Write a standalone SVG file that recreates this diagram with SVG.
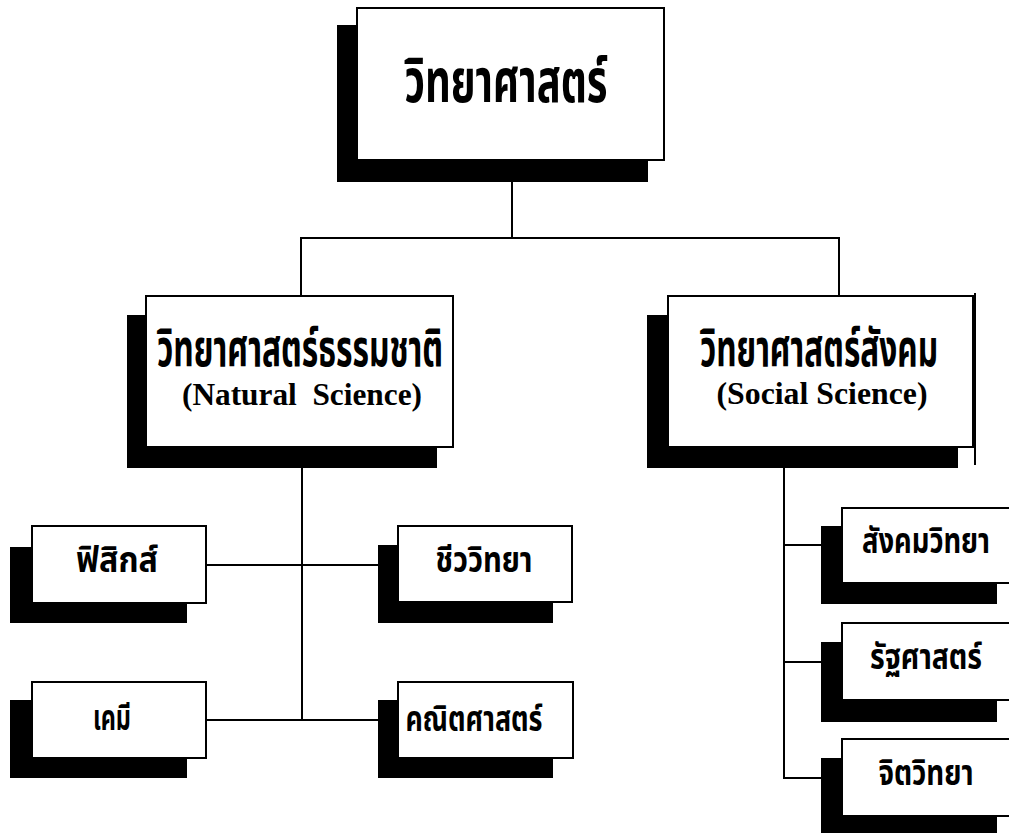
<svg xmlns="http://www.w3.org/2000/svg" width="1009" height="833" viewBox="0 0 1009 833">
<style>
.bg{fill:#fff}
.sh{fill:#000}
.bx{fill:#fff;stroke:#000;stroke-width:2}
.ln{stroke:#000;stroke-width:2;fill:none}
.th{font-family:'Noto Sans Thai','Noto Sans Thai UI','Noto Serif Thai',Loma,Garuda,'Tlwg Typo','Noto Sans',sans-serif;font-weight:bold;fill:#000;text-anchor:middle}
.en{font-family:'Liberation Serif','Times New Roman',serif;font-weight:bold;fill:#000;text-anchor:middle;font-size:32px}
</style>
<rect class="bg" x="0" y="0" width="1009" height="833"/>
<g id="connectors">
<line class="ln" x1="512" y1="182" x2="512" y2="238"/>
<line class="ln" x1="301" y1="238" x2="840" y2="238"/>
<line class="ln" x1="301" y1="237" x2="301" y2="296"/>
<line class="ln" x1="839" y1="237" x2="839" y2="296"/>
<line class="ln" x1="302" y1="468" x2="302" y2="721"/>
<line class="ln" x1="206" y1="565" x2="378" y2="565"/>
<line class="ln" x1="206" y1="720" x2="378" y2="720"/>
<line class="ln" x1="784" y1="468" x2="784" y2="779"/>
<line class="ln" x1="783" y1="545" x2="821" y2="545"/>
<line class="ln" x1="783" y1="662" x2="821" y2="662"/>
<line class="ln" x1="783" y1="778" x2="821" y2="778"/>
</g>
<g id="science">
<rect class="sh" x="337" y="25" width="311" height="157"/>
<rect class="bx" x="357" y="8" width="307" height="152"/>
<text class="th" x="506" y="102" font-size="60" textLength="203" lengthAdjust="spacingAndGlyphs">วิทยาศาสตร์</text>
</g>
<g id="natural-science">
<rect class="sh" x="127" y="315" width="310" height="153"/>
<rect class="bx" x="146" y="296" width="307" height="151"/>
<text class="th" x="300" y="366" font-size="52" textLength="286" lengthAdjust="spacingAndGlyphs">วิทยาศาสตร์ธรรมชาติ</text>
<text class="en" x="302" y="405" textLength="240" lengthAdjust="spacingAndGlyphs" xml:space="preserve">(Natural  Science)</text>
</g>
<g id="social-science">
<rect class="sh" x="647" y="315" width="311" height="153"/>
<rect class="bx" x="668" y="296" width="305" height="151"/>
<line class="ln" x1="975" y1="293" x2="975" y2="465"/>
<text class="th" x="819" y="366" font-size="52" textLength="238" lengthAdjust="spacingAndGlyphs">วิทยาศาสตร์สังคม</text>
<text class="en" x="822" y="404" textLength="211" lengthAdjust="spacingAndGlyphs">(Social Science)</text>
</g>
<g id="physics">
<rect class="sh" x="10" y="547" width="177" height="76"/>
<rect class="bx" x="32" y="526" width="174" height="77"/>
<text class="th" x="117" y="572" font-size="36" textLength="82" lengthAdjust="spacingAndGlyphs">ฟิสิกส์</text>
</g>
<g id="chemistry">
<rect class="sh" x="10" y="700" width="177" height="78"/>
<rect class="bx" x="32" y="682" width="174" height="76"/>
<text class="th" x="112" y="730" font-size="36" textLength="38" lengthAdjust="spacingAndGlyphs">เคมี</text>
</g>
<g id="biology">
<rect class="sh" x="378" y="545" width="175" height="78"/>
<rect class="bx" x="398" y="526" width="174" height="76"/>
<text class="th" x="484" y="572" font-size="36" textLength="97" lengthAdjust="spacingAndGlyphs">ชีววิทยา</text>
</g>
<g id="mathematics">
<rect class="sh" x="378" y="700" width="175" height="78"/>
<rect class="bx" x="398" y="682" width="175" height="76"/>
<text class="th" x="474" y="731" font-size="36" textLength="137" lengthAdjust="spacingAndGlyphs">คณิตศาสตร์</text>
</g>
<g id="sociology">
<rect class="sh" x="821" y="526" width="176" height="78"/>
<rect class="bx" x="842" y="508" width="180" height="75"/>
<text class="th" x="926" y="553" font-size="36" textLength="128" lengthAdjust="spacingAndGlyphs">สังคมวิทยา</text>
</g>
<g id="political-science">
<rect class="sh" x="821" y="642" width="176" height="80"/>
<rect class="bx" x="842" y="623" width="180" height="77"/>
<text class="th" x="926" y="669" font-size="36" textLength="112" lengthAdjust="spacingAndGlyphs">รัฐศาสตร์</text>
</g>
<g id="psychology">
<rect class="sh" x="821" y="758" width="176" height="80"/>
<rect class="bx" x="842" y="739" width="180" height="77"/>
<text class="th" x="926" y="785" font-size="36" textLength="95" lengthAdjust="spacingAndGlyphs">จิตวิทยา</text>
</g>
</svg>
